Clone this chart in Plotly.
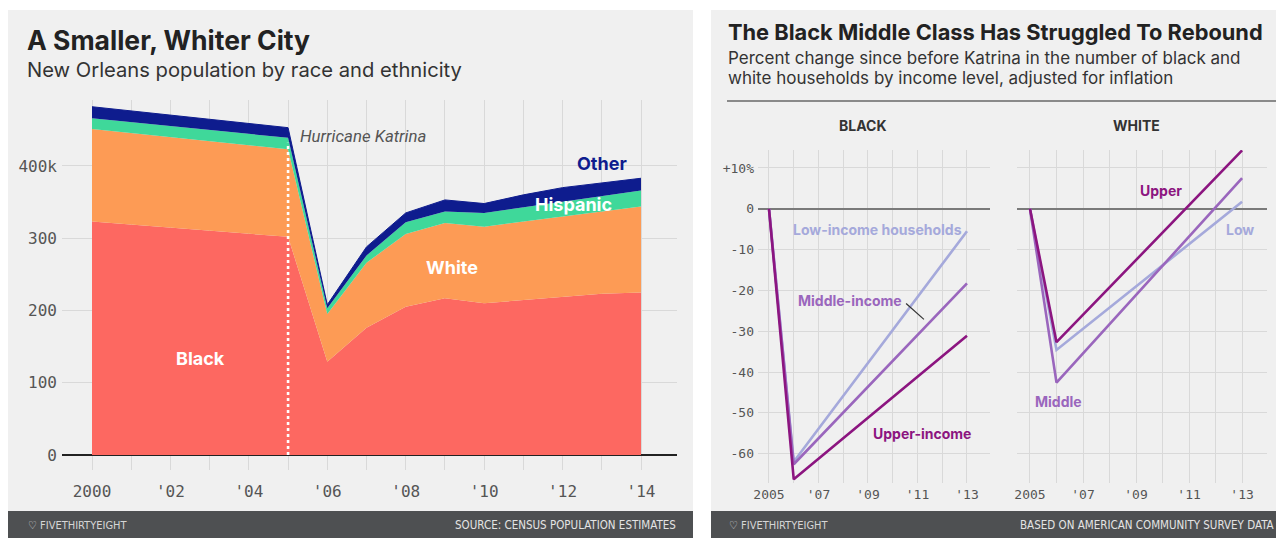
import plotly.graph_objects as go

# The page body has an 8px margin, so the figure is drawn 8px in from the top-left corner.
OFF = 8
W, H = 1284 - OFF, 538 - OFF

# ---------------- data: left chart (thousands of residents) ----------------
years = [2000, 2005, 2006, 2007, 2008, 2009, 2010, 2011, 2012, 2013, 2014]
black_pop = [323, 302, 129, 176, 205, 217, 210, 214, 219, 223, 225]
white_pop = [128, 121, 66, 90, 101, 104, 106, 109, 111, 114, 119]
hispanic_pop = [15, 16, 8, 10, 16, 16, 19, 20, 21, 21, 22]
other_pop = [16, 14, 5, 12, 13, 16, 13, 17, 19, 19, 17]
katrina_year = 2005
katrina_top = 432

left_xticks = list(range(2000, 2015))
left_xtext = ["2000", "", "'02", "", "'04", "", "'06", "", "'08", "", "'10", "", "'12", "", "'14"]
left_yticks = [0, 100, 200, 300, 400]
left_ytext = ["0", "100", "200", "300", "400k"]

# ---------------- data: right chart (% change since 2005) ----------------
hh_years = [2005, 2006, 2013]
black_low = [0, -62, -5.5]
black_mid = [0, -62.6, -18.3]
black_upp = [0, -66.3, -31.1]
white_low = [0, -34.6, 1.7]
white_mid = [0, -42.6, 7.5]
white_upp = [0, -32.7, 14.3]

right_xticks = list(range(2005, 2014))
right_xtext = ["2005", "", "'07", "", "'09", "", "'11", "", "'13"]
right_yticks = [-60, -50, -40, -30, -20, -10, 0, 10]
right_ytext = ["-60", "-50", "-40", "-30", "-20", "-10", "0", "+10%"]

# ---------------- style ----------------
C_BLACK = "#fd6861"
C_WHITE = "#fd9b55"
C_HISP = "#3fd89a"
C_OTHER = "#0e1c8e"
C_LOW = "#a5a9db"
C_MID = "#9a66bd"
C_UPP = "#8c1580"
PANEL = "#f0f0f0"
GRID = "#d9d9d9"
FOOT = "#4e5052"
TICKFONT = "DejaVu Sans Mono"
SANS = "Inter"
FOOTFONT = "DejaVu Sans Condensed, DejaVu Sans"


def px(x):
    return (x - OFF) / W


def py(y):
    return 1 - (y - OFF) / H


fig = go.Figure()

# stacked areas
for name, vals, col in [("Black", black_pop, C_BLACK), ("White", white_pop, C_WHITE),
                        ("Hispanic", hispanic_pop, C_HISP), ("Other", other_pop, C_OTHER)]:
    fig.add_trace(go.Scatter(
        x=years, y=vals, name=name, mode="lines", stackgroup="pop",
        line=dict(width=1 if name == "Other" else 0, color=col),
        fillcolor=col, hoverinfo="skip", xaxis="x", yaxis="y"))

# Katrina line
fig.add_trace(go.Scatter(
    x=[katrina_year, katrina_year], y=[0, katrina_top], mode="lines",
    line=dict(color="white", width=2.6, dash="dot"), hoverinfo="skip",
    xaxis="x", yaxis="y"))

# right lines
for vals, col, ax in [(black_low, C_LOW, "2"), (black_mid, C_MID, "2"), (black_upp, C_UPP, "2"),
                      (white_low, C_LOW, "3"), (white_mid, C_MID, "3"), (white_upp, C_UPP, "3")]:
    fig.add_trace(go.Scatter(
        x=hh_years, y=vals, mode="lines", line=dict(color=col, width=2.6),
        hoverinfo="skip", xaxis="x" + ax, yaxis="y" + ax))

shapes = [
    # panel backgrounds
    dict(type="rect", xref="paper", yref="paper", x0=px(8), x1=px(693), y0=py(538), y1=py(10),
         fillcolor=PANEL, line=dict(width=0), layer="below"),
    dict(type="rect", xref="paper", yref="paper", x0=px(711), x1=px(1284), y0=py(538), y1=py(10),
         fillcolor=PANEL, line=dict(width=0), layer="below"),
    # footers
    dict(type="rect", xref="paper", yref="paper", x0=px(8), x1=px(693), y0=py(538), y1=py(511),
         fillcolor=FOOT, line=dict(width=0), layer="above"),
    dict(type="rect", xref="paper", yref="paper", x0=px(711), x1=px(1284), y0=py(538), y1=py(511),
         fillcolor=FOOT, line=dict(width=0), layer="above"),
    # rule under right subtitle
    dict(type="line", xref="paper", yref="paper", x0=px(727), x1=px(1278), y0=py(101), y1=py(101),
         line=dict(color="#8a8a8a", width=2)),
    # leader for Middle-income
    dict(type="line", xref="x2", yref="y2", x0=2010.54, y0=-23.2, x1=2011.26, y1=-27.1,
         line=dict(color="#333333", width=1.2)),
]

ann = []


def text(x, y, s, size, color, xanchor="left", family=SANS, xref="paper", yref="paper"):
    ann.append(dict(x=x, y=y, xref=xref, yref=yref, text=s, showarrow=False,
                    xanchor=xanchor, yanchor="middle",
                    font=dict(family=family, size=size, color=color)))


# left titles
text(px(25), py(40), "<b>A Smaller, Whiter City</b>", 26.5, "#222222")
text(px(25), py(70), "New Orleans population by race and ethnicity", 20.2, "#333333")
# left labels
text(2002.76, 134, "<b>Black</b>", 18, "white", "center", xref="x", yref="y")
text(2009.18, 260, "<b>White</b>", 18, "white", "center", xref="x", yref="y")
text(2012.27, 346, "<b>Hispanic</b>", 18, "white", "center", xref="x", yref="y")
text(2013.01, 403, "<b>Other</b>", 18, C_OTHER, "center", xref="x", yref="y")
text(2005.25, 441.5, "<i>Hurricane Katrina</i>", 16.8, "#555555", "left", family="Roboto",
     xref="x", yref="y")

# right titles
text(px(726), py(32), "<b>The Black Middle Class Has Struggled To Rebound</b>", 21.8, "#222222")
text(px(726), py(58), "Percent change since before Katrina in the number of black and", 17, "#333333")
text(px(726), py(78), "white households by income level, adjusted for inflation", 17, "#333333")
text(px(862), py(125), "<b>BLACK</b>", 14, "#333333", "center")
text(px(1136), py(125), "<b>WHITE</b>", 14, "#333333", "center")

# right labels
text(2009.40, -5.1, "<b>Low-income households</b>", 14, C_LOW, "center", xref="x2", yref="y2")
text(2008.27, -22.5, "<b>Middle-income</b>", 14, C_MID, "center", xref="x2", yref="y2")
text(2011.18, -55.0, "<b>Upper-income</b>", 14, C_UPP, "center", xref="x2", yref="y2")
text(2009.94, 4.4, "<b>Upper</b>", 14, C_UPP, "center", xref="x3", yref="y3")
text(2012.92, -5.1, "<b>Low</b>", 14, C_LOW, "center", xref="x3", yref="y3")
text(2006.06, -47.2, "<b>Middle</b>", 14, C_MID, "center", xref="x3", yref="y3")

# footers
text(px(26), py(525), "\u2661 FIVETHIRTYEIGHT", 11, "#d6d6d6", family=FOOTFONT)
text(px(678), py(525), "SOURCE: CENSUS POPULATION ESTIMATES", 11.5, "#e4e4e4", "right", family=FOOTFONT)
text(px(727), py(525), "\u2661 FIVETHIRTYEIGHT", 11, "#d6d6d6", family=FOOTFONT)
text(px(1276), py(525), "BASED ON AMERICAN COMMUNITY SURVEY DATA", 11.5, "#e4e4e4", "right",
     family=FOOTFONT)

common_x = dict(showgrid=True, gridcolor=GRID, gridwidth=1, zeroline=False, showline=False,
                ticks="", automargin=False, fixedrange=True)
common_y = dict(showgrid=True, gridcolor=GRID, gridwidth=1, showline=False, ticks="",
                automargin=False, fixedrange=True)

fig.update_layout(
    width=W, height=H, margin=dict(l=0, r=0, t=0, b=0),
    template="none", showlegend=False,
    paper_bgcolor="white", plot_bgcolor="rgba(0,0,0,0)",
    shapes=shapes, annotations=ann,
    xaxis=dict(domain=[px(62), px(677)], range=[1999.235, 2014.918], anchor="y",
               tickvals=left_xticks, ticktext=left_xtext, ticklabelstandoff=10,
               tickfont=dict(family=TICKFONT, size=16, color="#555555"), **common_x),
    yaxis=dict(domain=[py(470), py(100)], range=[-20.8, 491.3], anchor="x",
               tickvals=left_yticks, ticktext=left_ytext, ticklabelstandoff=4,
               zeroline=True, zerolinecolor="#222222", zerolinewidth=1.5,
               tickfont=dict(family=TICKFONT, size=16, color="#555555"), **common_y),
    xaxis2=dict(domain=[px(758), px(990)], range=[2004.556, 2013.93], anchor="y2",
                tickvals=right_xticks, ticktext=right_xtext, ticklabelstandoff=2,
                tickfont=dict(family=TICKFONT, size=13, color="#555555"), **common_x),
    yaxis2=dict(domain=[py(483), py(150)], range=[-67.2, 14.4], anchor="x2",
                tickvals=right_yticks, ticktext=right_ytext, ticklabelstandoff=3,
                zeroline=True, zerolinecolor="#7a7a7a", zerolinewidth=2,
                tickfont=dict(family=TICKFONT, size=13, color="#555555"), **common_y),
    xaxis3=dict(domain=[px(1017), px(1267)], range=[2004.51, 2013.94], anchor="y3",
                tickvals=right_xticks, ticktext=right_xtext, ticklabelstandoff=2,
                tickfont=dict(family=TICKFONT, size=13, color="#555555"), **common_x),
    yaxis3=dict(domain=[py(483), py(150)], range=[-67.2, 14.4], anchor="x3",
                tickvals=right_yticks, showticklabels=False,
                zeroline=True, zerolinecolor="#7a7a7a", zerolinewidth=2, **common_y),
)

fig.write_html("out.html")
